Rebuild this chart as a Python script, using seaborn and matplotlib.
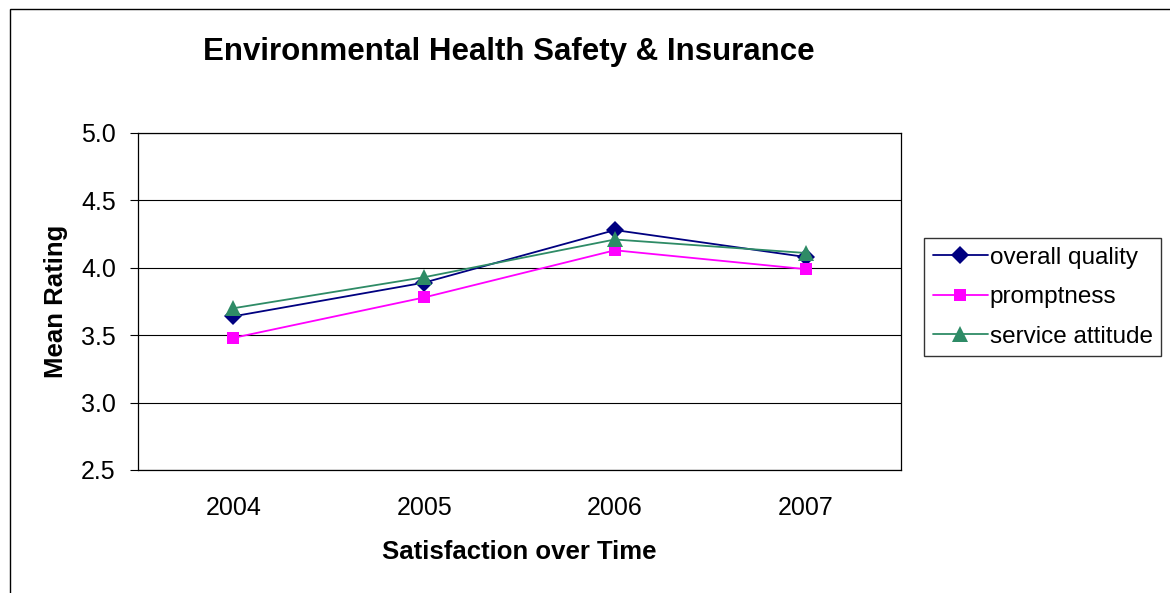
import matplotlib
matplotlib.use("Agg")
import matplotlib.pyplot as plt
import pandas as pd
import seaborn as sns
from matplotlib.patches import Rectangle

years = ["2004", "2005", "2006", "2007"]
overall_quality = [3.64, 3.89, 4.28, 4.08]
promptness = [3.48, 3.78, 4.13, 3.99]
service_attitude = [3.70, 3.93, 4.21, 4.11]

series = ["overall quality", "promptness", "service attitude"]
colors = {"overall quality": "#000080", "promptness": "#FF00FF", "service attitude": "#2E8B66"}
markers = {"overall quality": "D", "promptness": "s", "service attitude": "^"}

df = pd.DataFrame({
    "x": list(range(len(years))) * 3,
    "rating": overall_quality + promptness + service_attitude,
    "series": [s for s in series for _ in years],
})

sns.set_theme(style="white")
plt.rcParams["font.family"] = ["Liberation Sans", "DejaVu Sans"]
plt.rcParams["text.color"] = "black"
plt.rcParams["axes.labelcolor"] = "black"
plt.rcParams["xtick.color"] = "black"
plt.rcParams["ytick.color"] = "black"

fig = plt.figure(figsize=(11.7, 5.93), dpi=100)
fig.patches.append(Rectangle((10 / 1170, -0.1), 1.2, 1 - 9 / 593 + 0.1, transform=fig.transFigure,
                             fill=False, edgecolor="black", linewidth=1))
ax = fig.add_axes([138 / 1170, 1 - 470 / 593, (901 - 138) / 1170, (470 - 133) / 593])

sns.lineplot(data=df, x="x", y="rating", hue="series", style="series", palette=colors,
             markers=markers, dashes=False, markersize=9, markeredgewidth=0, linewidth=1.3, ax=ax)
# triangles look a bit bigger in the original
for line in ax.lines:
    if line.get_marker() == "^":
        line.set_markersize(11)

ax.set_xlim(-0.5, 3.5)
ax.set_ylim(2.5, 5.0)
ax.set_yticks([2.5, 3.0, 3.5, 4.0, 4.5, 5.0])
ax.set_yticklabels([f"{v:.1f}" for v in [2.5, 3.0, 3.5, 4.0, 4.5, 5.0]], fontsize=18)
ax.set_xticks(range(len(years)))
ax.set_xticklabels(years, fontsize=18)
ax.set_xticks([-0.5, 0.5, 1.5, 2.5, 3.5], minor=True)
ax.tick_params(axis="x", which="major", length=0, pad=19)
ax.tick_params(axis="x", which="minor", length=6, width=0.8, direction="out", color="black")
ax.tick_params(axis="y", length=6, width=0.8, direction="out", color="black", left=True, pad=10)
ax.grid(axis="y", color="black", linewidth=0.8)
for sp in ax.spines.values():
    sp.set_color("black")
    sp.set_linewidth(0.9)

ax.set_xlabel("Satisfaction over Time", fontsize=18.5, fontweight="bold", labelpad=14)
ax.set_ylabel("Mean Rating", fontsize=18.5, fontweight="bold", labelpad=9)
fig.text(509 / 1170, 1 - 52 / 593, "Environmental Health Safety & Insurance", ha="center", va="center",
         fontsize=22.5, fontweight="bold")

handles, labels = ax.get_legend_handles_labels()
for h in handles:
    if h.get_marker() == "^":
        h.set_markersize(11)
ax.legend(handles, labels, loc="upper left", bbox_to_anchor=(924 / 1170, 1 - 238 / 593),
          bbox_transform=fig.transFigure, fontsize=17.5, frameon=True, fancybox=False,
          edgecolor="black", handlelength=2.3, handletextpad=0.05, borderpad=0.35, labelspacing=0.72,
          borderaxespad=0)

fig.savefig("out.png", dpi=100)
